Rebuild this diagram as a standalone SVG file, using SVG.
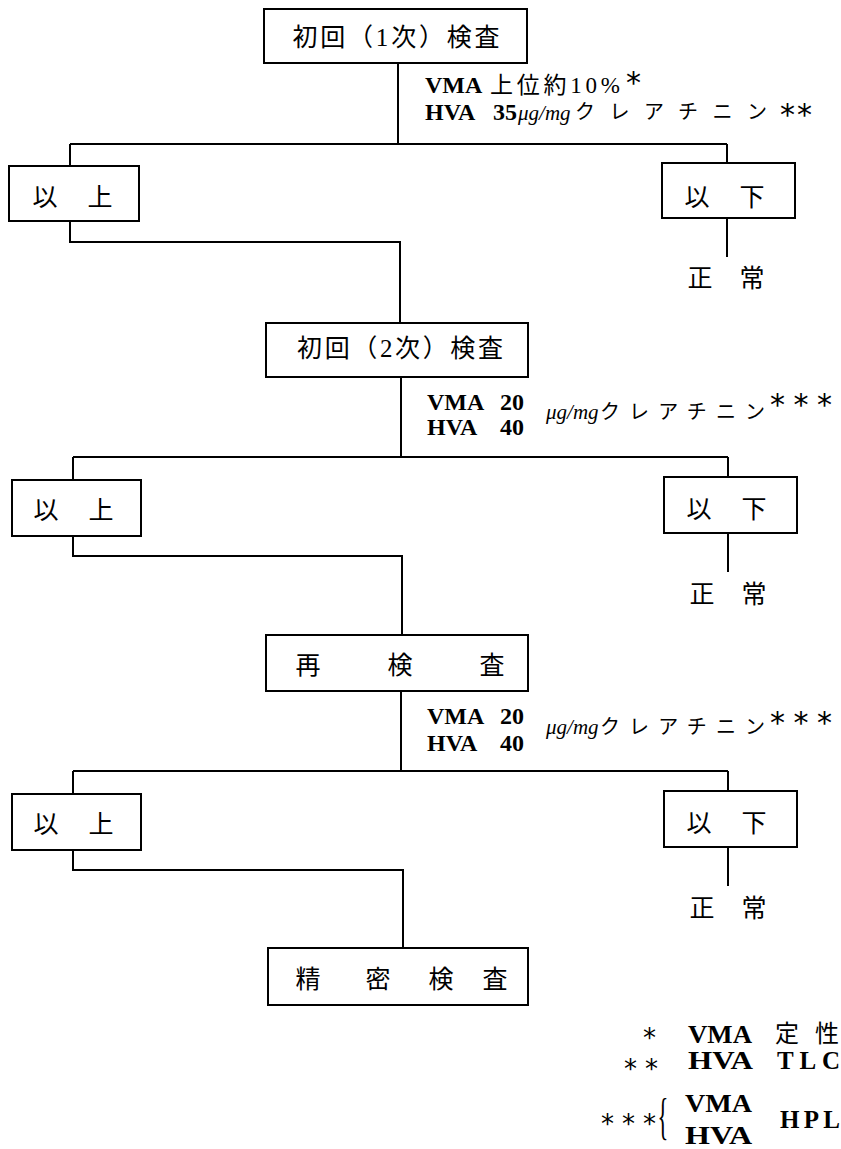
<svg xmlns="http://www.w3.org/2000/svg" width="841" height="1149" viewBox="0 0 841 1149">
<style>
.box{fill:#fff;stroke:#000;stroke-width:2}
.ln{fill:none;stroke:#000;stroke-width:2}
.bt{font-family:"Liberation Serif","Noto Sans CJK JP",serif;font-size:25px;fill:#000;text-anchor:middle}
.lt{font-family:"Liberation Serif","Noto Sans CJK JP",serif;font-size:24px;font-weight:bold;fill:#000}
.jt{font-family:"Liberation Serif","Noto Sans CJK JP",serif;font-size:23px;fill:#000}
.lg{font-family:"Liberation Serif","Noto Sans CJK JP",serif;font-size:25px;font-weight:bold;fill:#000}
.ug{font-family:"Liberation Serif",serif;font-size:21px;font-style:italic;fill:#000}
.ka{font-family:"Liberation Serif","Noto Sans CJK JP",serif;font-size:20px;fill:#000}
.ast{font-family:"DejaVu Sans",sans-serif;font-size:30px;fill:#000}
.as2{font-family:"DejaVu Sans",sans-serif;font-size:26px;fill:#000}
.br{font-family:"Liberation Serif",serif;font-size:50px;fill:#000;text-anchor:middle}
</style>
<rect width="841" height="1149" fill="#fff"/>
<g id="connectors">
<path class="ln" d="M398,63 V144 M70,144 H727 M70,144 V166 M727,144 V163 M70,221 V242 H400 V323 M727,218 V257"/>
<path class="ln" d="M401,377 V457 M73,457 H728 M73,457 V480 M728,457 V477 M73,536 V556 H402 V635 M728,533 V572"/>
<path class="ln" d="M401,691 V771 M73,771 H728 M73,771 V794 M728,771 V791 M73,850 V870 H403 V948 M728,847 V886"/>
</g>
<g id="n1"><rect class="box" x="264" y="9" width="263" height="54"/><text class="bt" x="396" y="46" textLength="207" lengthAdjust="spacing">初回（1次）検査</text></g>
<g id="c1">
<text class="lt" x="425" y="93">VMA</text>
<text class="jt" x="490" y="93" textLength="130" lengthAdjust="spacing">上位約10%</text>
<text class="ast" x="626" y="93">*</text>
<text class="lt" x="425" y="120">HVA</text>
<text class="lt" x="493" y="120">35</text>
<text class="ug" x="518" y="120">μg/mg</text>
<text class="ka" x="575" y="119" textLength="192" lengthAdjust="spacing">クレアチニン</text>
<text class="ast" x="780" y="125" textLength="32" lengthAdjust="spacing">**</text>
</g>
<g id="n1a"><rect class="box" x="9" y="166" width="130" height="55"/><text class="bt" x="45" y="206">以</text><text class="bt" x="100" y="206">上</text></g>
<g id="n1b"><rect class="box" x="662" y="163" width="133" height="55"/><text class="bt" x="697" y="206">以</text><text class="bt" x="752" y="206">下</text></g>
<g id="n1c"><text class="bt" x="700" y="287">正</text><text class="bt" x="752" y="287">常</text></g>

<g id="n2"><rect class="box" x="266" y="323" width="262" height="54"/><text class="bt" x="400" y="357" textLength="206" lengthAdjust="spacing">初回（2次）検査</text></g>
<g id="c2">
<text class="lt" x="427" y="410">VMA</text>
<text class="lt" x="500" y="410">20</text>
<text class="lt" x="427" y="435">HVA</text>
<text class="lt" x="500" y="435">40</text>
<text class="ug" x="546" y="419">μg/mg</text>
<text class="ka" x="600" y="419" textLength="165" lengthAdjust="spacing">クレアチニン</text>
<text class="ast" x="770" y="415" textLength="62" lengthAdjust="spacing">***</text>
</g>
<g id="n2a"><rect class="box" x="12" y="480" width="129" height="56"/><text class="bt" x="46" y="519">以</text><text class="bt" x="101" y="519">上</text></g>
<g id="n2b"><rect class="box" x="664" y="477" width="133" height="56"/><text class="bt" x="699" y="518">以</text><text class="bt" x="754" y="518">下</text></g>
<g id="n2c"><text class="bt" x="702" y="603">正</text><text class="bt" x="754" y="603">常</text></g>

<g id="n3"><rect class="box" x="266" y="635" width="262" height="56"/><text class="bt" x="308" y="674">再</text><text class="bt" x="400" y="674">検</text><text class="bt" x="492" y="674">査</text></g>
<g id="c3">
<text class="lt" x="427" y="724">VMA</text>
<text class="lt" x="500" y="724">20</text>
<text class="lt" x="427" y="751">HVA</text>
<text class="lt" x="500" y="751">40</text>
<text class="ug" x="546" y="734">μg/mg</text>
<text class="ka" x="600" y="734" textLength="165" lengthAdjust="spacing">クレアチニン</text>
<text class="ast" x="770" y="733" textLength="62" lengthAdjust="spacing">***</text>
</g>
<g id="n3a"><rect class="box" x="12" y="794" width="129" height="56"/><text class="bt" x="46" y="833">以</text><text class="bt" x="101" y="833">上</text></g>
<g id="n3b"><rect class="box" x="664" y="791" width="133" height="56"/><text class="bt" x="699" y="832">以</text><text class="bt" x="754" y="832">下</text></g>
<g id="n3c"><text class="bt" x="702" y="917">正</text><text class="bt" x="754" y="917">常</text></g>

<g id="n4"><rect class="box" x="268" y="948" width="260" height="57"/><text class="bt" x="308" y="988">精</text><text class="bt" x="378" y="988">密</text><text class="bt" x="441" y="988">検</text><text class="bt" x="495" y="988">査</text></g>

<g id="legend">
<text class="as2" x="643" y="1047">*</text>
<text class="lg" x="688" y="1043" textLength="64" lengthAdjust="spacingAndGlyphs">VMA</text>
<text class="bt" x="787" y="1042" style="font-size:24px">定</text><text class="bt" x="827" y="1042" style="font-size:24px">性</text>
<text class="as2" x="624" y="1078" textLength="34" lengthAdjust="spacing">**</text>
<text class="lg" x="688" y="1069" textLength="65" lengthAdjust="spacingAndGlyphs">HVA</text>
<text class="lg" x="777" y="1069" textLength="63" lengthAdjust="spacing">TLC</text>
<text class="as2" x="601" y="1133" textLength="55" lengthAdjust="spacing">***</text>
<text class="br" transform="translate(663,1133) scale(0.45,1)">{</text>
<text class="lg" x="685" y="1112" textLength="67" lengthAdjust="spacingAndGlyphs">VMA</text>
<text class="lg" x="685" y="1144" textLength="67" lengthAdjust="spacingAndGlyphs">HVA</text>
<text class="lg" x="780" y="1128" textLength="60" lengthAdjust="spacing">HPL</text>
</g>
</svg>
